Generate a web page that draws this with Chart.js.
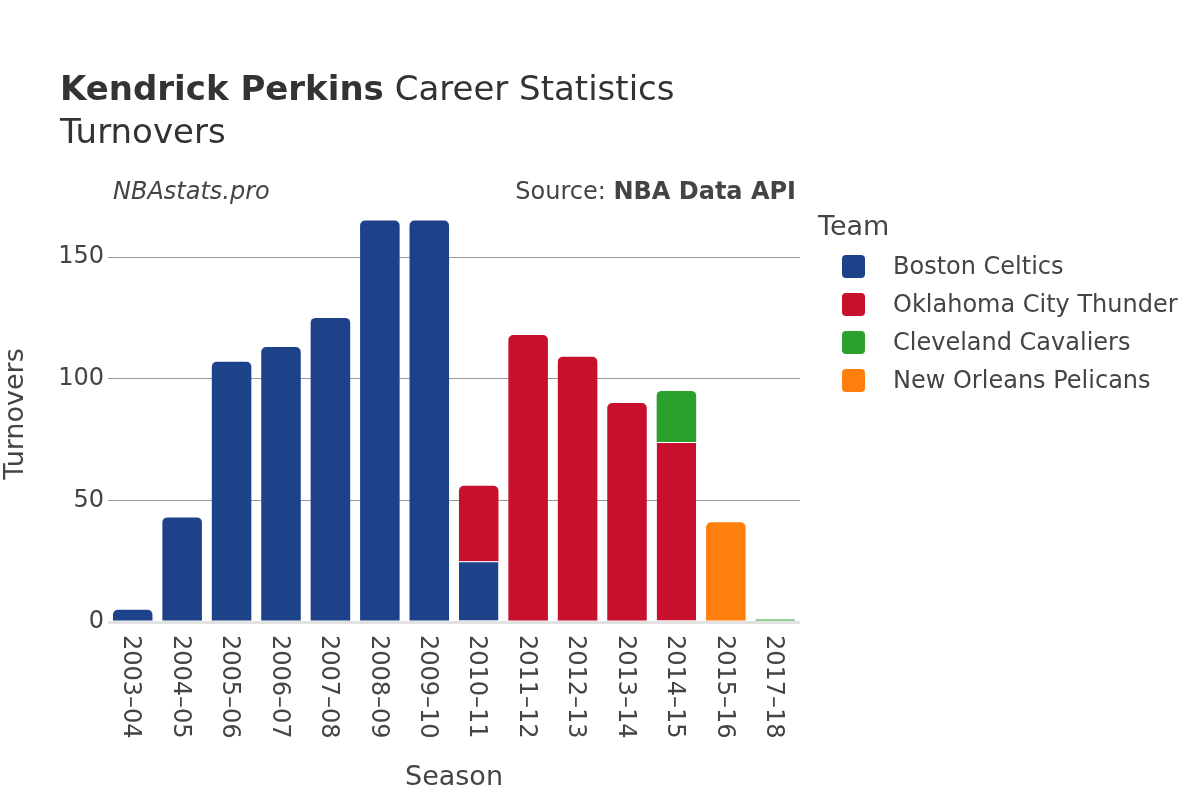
<!DOCTYPE html>
<html>
<head>
<meta charset="utf-8">
<script src="https://cdn.jsdelivr.net/npm/chart.js@4.4.1/dist/chart.umd.min.js"></script>
<style>
    html, body { margin: 0; padding: 0; background: #fff; }
    body { width: 1200px; height: 800px; position: relative; overflow: hidden; font-family: 'DejaVu Sans', sans-serif; color: #444; }
    #chart { position: absolute; left: 0; top: 0; }
    .txt { position: absolute; white-space: nowrap; line-height: 1; }
    .title { left: 60px; font-size: 34px; color: #333; }
    .legend-item { position: absolute; left: 842px; height: 24px; }
    .legend-swatch { position: absolute; left: 0; top: 0.5px; width: 23px; height: 23px; border-radius: 4px; }
    .legend-label { position: absolute; left: 51px; top: 0; font-size: 24px; line-height: 1; white-space: nowrap; }
</style>
</head>
<body>
<canvas id="chart" width="1200" height="800"></canvas>

<div class="txt title" style="top:71px;"><b>Kendrick Perkins</b> Career Statistics</div>
<div class="txt title" style="top:114px;">Turnovers</div>
<div class="txt" style="left:113px; top:179px; font-size:24px; font-style:italic;">NBAstats.pro</div>
<div class="txt" style="right:404px; top:179px; font-size:24px;">Source: <b>NBA Data API</b></div>
<div class="txt" style="left:818px; top:212px; font-size:27px;">Team</div>
<div id="legend"></div>

<script>
// Kendrick Perkins - turnovers per season, stacked by team

const seasons = ['2003–04', '2004–05', '2005–06', '2006–07', '2007–08', '2008–09', '2009–10',
    '2010–11', '2011–12', '2012–13', '2013–14', '2014–15', '2015–16', '2017–18'];

const bostonCeltics = [5, 43, 107, 113, 125, 165, 165, 25, null, null, null, null, null, null];
const okcThunder = [null, null, null, null, null, null, null, 31, 118, 109, 90, 74, null, null];
const clevelandCavaliers = [null, null, null, null, null, null, null, null, null, null, null, 21, null, 1];
const neworleansPelicans = [null, null, null, null, null, null, null, null, null, null, null, null, 41, null];

const teams = ['Boston Celtics', 'Oklahoma City Thunder', 'Cleveland Cavaliers', 'New Orleans Pelicans'];
const teamColors = ['#1d428a', '#c8102e', '#2ca02c', '#ff7f0e'];
const teamData = [bostonCeltics, okcThunder, clevelandCavaliers, neworleansPelicans];

const yTicks = [0, 50, 100, 150];

const FONT = 'DejaVu Sans';

// index of the dataset that sits on top of each season's stack
const topOfStack = seasons.map((s, i) => {
    let top = -1;
    teamData.forEach((d, k) => { if (d[i] != null) top = k; });
    return top;
});

/**
 * Build legend from the team list
 */
function renderLegend() {
    const box = document.getElementById('legend');
    box.innerHTML = teams.map((t, i) => `
        <div class="legend-item" style="top:${254 + i * 38}px;">
            <div class="legend-swatch" style="background:${teamColors[i]}"></div>
            <div class="legend-label">${t}</div>
        </div>`).join('');
}

// x tick labels read top-to-bottom, so draw them ourselves from the x scale
const seasonLabels = {
    id: 'seasonLabels',
    afterDraw(chart) {
        const ctx = chart.ctx;
        const xScale = chart.scales.x;
        ctx.save();
        ctx.font = `24px '${FONT}'`;
        ctx.fillStyle = '#444';
        ctx.textAlign = 'left';
        ctx.textBaseline = 'middle';
        seasons.forEach((s, i) => {
            const x = xScale.getPixelForValue(i);
            ctx.save();
            ctx.translate(x - 2, 635);
            ctx.rotate(Math.PI / 2);
            ctx.fillText(s, 0, 0);
            ctx.restore();
        });
        ctx.restore();
    }
};

function renderChart() {
    const ctx = document.getElementById('chart').getContext('2d');

    new Chart(ctx, {
        type: 'bar',
        data: {
            labels: seasons,
            datasets: teams.map((t, i) => ({
                label: t,
                data: teamData[i],
                backgroundColor: teamColors[i],
                borderColor: '#ffffff',
                // white seam only where another team sits on top
                borderWidth: (c) => topOfStack[c.dataIndex] === c.datasetIndex
                    ? 0
                    : { top: 1, right: 0, bottom: 0, left: 0 },
                borderRadius: (c) => topOfStack[c.dataIndex] === c.datasetIndex
                    ? { topLeft: 5, topRight: 5, bottomLeft: 0, bottomRight: 0 }
                    : 0,
                borderSkipped: 'start',
                barPercentage: 0.8,
                categoryPercentage: 1.0
            }))
        },
        options: {
            responsive: false,
            devicePixelRatio: 1,
            animation: false,
            layout: { padding: { top: 206, right: 400, left: 0, bottom: 0 } },
            plugins: {
                legend: { display: false },
                tooltip: { enabled: false }
            },
            scales: {
                x: {
                    stacked: true,
                    grid: { display: false },
                    border: { display: false },
                    ticks: { display: false },
                    title: {
                        display: true,
                        text: 'Season',
                        color: '#444',
                        font: { family: FONT, size: 27 },
                        padding: { top: 0, bottom: 6 }
                    },
                    afterFit: (scale) => { scale.height = 178; }
                },
                y: {
                    stacked: true,
                    min: 0,
                    max: 171,
                    afterBuildTicks: (scale) => { scale.ticks = yTicks.map(v => ({ value: v })); },
                    grid: {
                        drawTicks: false,
                        color: (c) => c.tick && c.tick.value === 0 ? '#e2e2e2' : '#999',
                        lineWidth: (c) => c.tick && c.tick.value === 0 ? 3 : 1
                    },
                    border: { display: false },
                    ticks: {
                        color: '#444',
                        padding: 4,
                        font: { family: FONT, size: 24 }
                    },
                    title: {
                        display: true,
                        text: 'Turnovers',
                        color: '#444',
                        font: { family: FONT, size: 27 },
                        padding: { top: 0, bottom: 0 }
                    },
                    afterFit: (scale) => { scale.width = 108; }
                }
            }
        },
        plugins: [seasonLabels]
    });
}

renderLegend();
renderChart();
</script>
</body>
</html>
